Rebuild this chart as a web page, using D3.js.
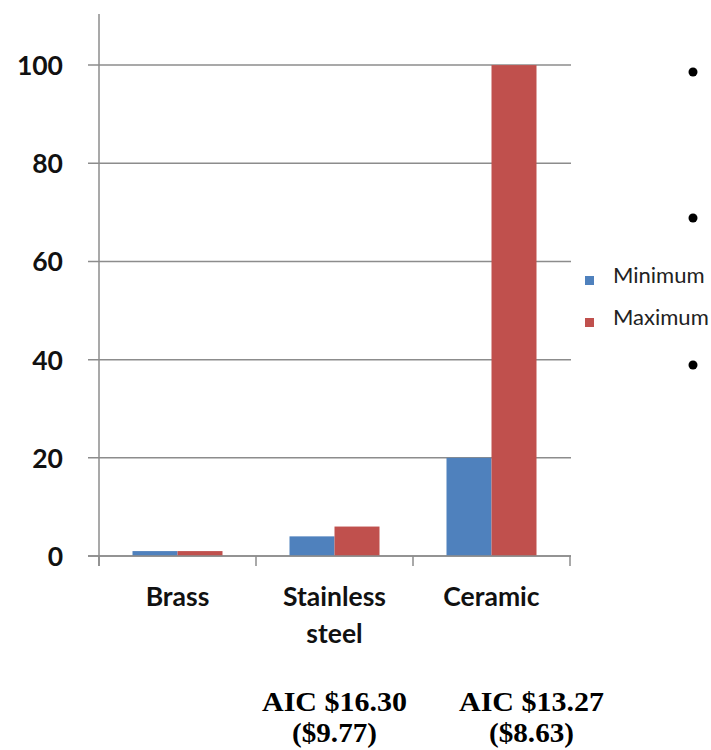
<!DOCTYPE html>
<html>
<head>
<meta charset="utf-8">
<script src="https://cdn.jsdelivr.net/npm/d3@7/dist/d3.min.js"></script>
<style>
  html, body { margin: 0; padding: 0; background: #fff; }
  svg { display: block; }
</style>
</head>
<body>
<svg id="chart" width="711" height="750"></svg>
<script>
// Cost range per cartridge material
const categories = [["Brass"], ["Stainless", "steel"], ["Ceramic"]];
const seriesNames = ["Minimum", "Maximum"];
const minimumValues = [1, 4, 20];
const maximumValues = [1, 6, 100];
const yTicks = [0, 20, 40, 60, 80, 100];
const seriesColors = ["#4F81BD", "#C0504D"];
const aicNotes = [
  { cat: 1, lines: ["AIC $16.30", "($9.77)"] },
  { cat: 2, lines: ["AIC $13.27", "($8.63)"] }
];

const svg = d3.select("#chart");
const axisColor = "#8c8c8c";
const catKeys = categories.map(c => c.join(" "));

const x0 = d3.scaleBand().domain(catKeys).range([99, 570]).paddingInner(0).paddingOuter(0);
const groupW = 90;
const x1 = d3.scaleBand().domain(seriesNames).range([0, groupW]);
const y = d3.scaleLinear().domain([0, 110]).range([556, 16]);

// Horizontal gridlines with outside ticks
svg.append("g").selectAll("line").data(yTicks).join("line")
  .attr("x1", 88).attr("x2", 571)
  .attr("y1", d => y(d)).attr("y2", d => y(d))
  .attr("stroke", axisColor).attr("stroke-width", 1.5);

// Y axis labels
svg.append("g").selectAll("text").data(yTicks).join("text")
  .attr("x", 63).attr("y", d => y(d))
  .attr("text-anchor", "end").attr("dominant-baseline", "central")
  .attr("font-family", "Lato, 'Open Sans', sans-serif")
  .attr("font-weight", "bold").attr("font-size", 26.5)
  .attr("fill", "#111")
  .text(d => d);

// Bars
const rows = catKeys.map((k, i) => ({ key: k, values: [minimumValues[i], maximumValues[i]] }));
const groups = svg.append("g").selectAll("g").data(rows).join("g")
  .attr("transform", d => `translate(${x0(d.key) + (x0.bandwidth() - groupW) / 2},0)`);
groups.selectAll("rect").data(d => d.values.map((v, j) => ({ s: seriesNames[j], v, j })))
  .join("rect")
  .attr("x", d => x1(d.s))
  .attr("width", x1.bandwidth())
  .attr("y", d => y(d.v))
  .attr("height", d => y(0) - y(d.v))
  .attr("fill", d => seriesColors[d.j]);

// Y axis line
svg.append("line")
  .attr("x1", 99).attr("x2", 99).attr("y1", y(110) - 2).attr("y2", 566)
  .attr("stroke", axisColor).attr("stroke-width", 1.5);

// X axis line and category boundary ticks
svg.append("line")
  .attr("x1", 88).attr("x2", 571).attr("y1", y(0)).attr("y2", y(0))
  .attr("stroke", axisColor).attr("stroke-width", 1.5);
const bounds = catKeys.map(k => x0(k)).concat([x0.range()[1]]);
svg.append("g").selectAll("line").data(bounds).join("line")
  .attr("x1", d => d).attr("x2", d => d)
  .attr("y1", y(0)).attr("y2", 566)
  .attr("stroke", axisColor).attr("stroke-width", 1.5);

// Category labels
const catLabels = svg.append("g").selectAll("text").data(categories).join("text")
  .attr("x", (d, i) => x0(catKeys[i]) + x0.bandwidth() / 2)
  .attr("y", 606)
  .attr("text-anchor", "middle")
  .attr("font-family", "Lato, 'Open Sans', sans-serif")
  .attr("font-weight", "bold").attr("font-size", 26.5)
  .attr("fill", "#111");
catLabels.selectAll("tspan").data(d => d).join("tspan")
  .attr("x", function () { return d3.select(this.parentNode).attr("x"); })
  .attr("dy", (d, i) => i === 0 ? 0 : 37)
  .text(d => d);

// Legend
const legend = svg.append("g").selectAll("g").data(seriesNames).join("g")
  .attr("transform", (d, i) => `translate(585,${276 + i * 42})`);
legend.append("rect").attr("width", 9).attr("height", 9)
  .attr("fill", (d, i) => seriesColors[i]);
legend.append("text")
  .attr("x", 28).attr("y", 7)
  .attr("font-family", "Lato, 'Open Sans', sans-serif")
  .attr("font-size", 22).attr("fill", "#222")
  .text(d => d);

// Bullet points at the right edge
svg.append("g").selectAll("circle").data([72, 218, 365]).join("circle")
  .attr("cx", 693).attr("cy", d => d).attr("r", 4.5).attr("fill", "#000");

// Average installed cost notes, one text per line, slightly widened
const offsets = [0, 40];
const lineWidths = [145, 85];
const noteLines = aicNotes.flatMap((n, i) => n.lines.map((t, j) => ({
  t, j, cx: x0(catKeys[n.cat]) + x0.bandwidth() / 2 + offsets[i]
})));
svg.append("g").selectAll("text").data(noteLines).join("text")
  .attr("x", d => d.cx)
  .attr("y", d => 711 + d.j * 30.5)
  .attr("text-anchor", "middle")
  .attr("font-family", "'Liberation Serif', 'Times New Roman', serif")
  .attr("font-weight", "bold").attr("font-size", 27.5)
  .attr("fill", "#000")
  .attr("textLength", d => lineWidths[d.j])
  .attr("lengthAdjust", "spacingAndGlyphs")
  .text(d => d.t);
</script>
</body>
</html>
